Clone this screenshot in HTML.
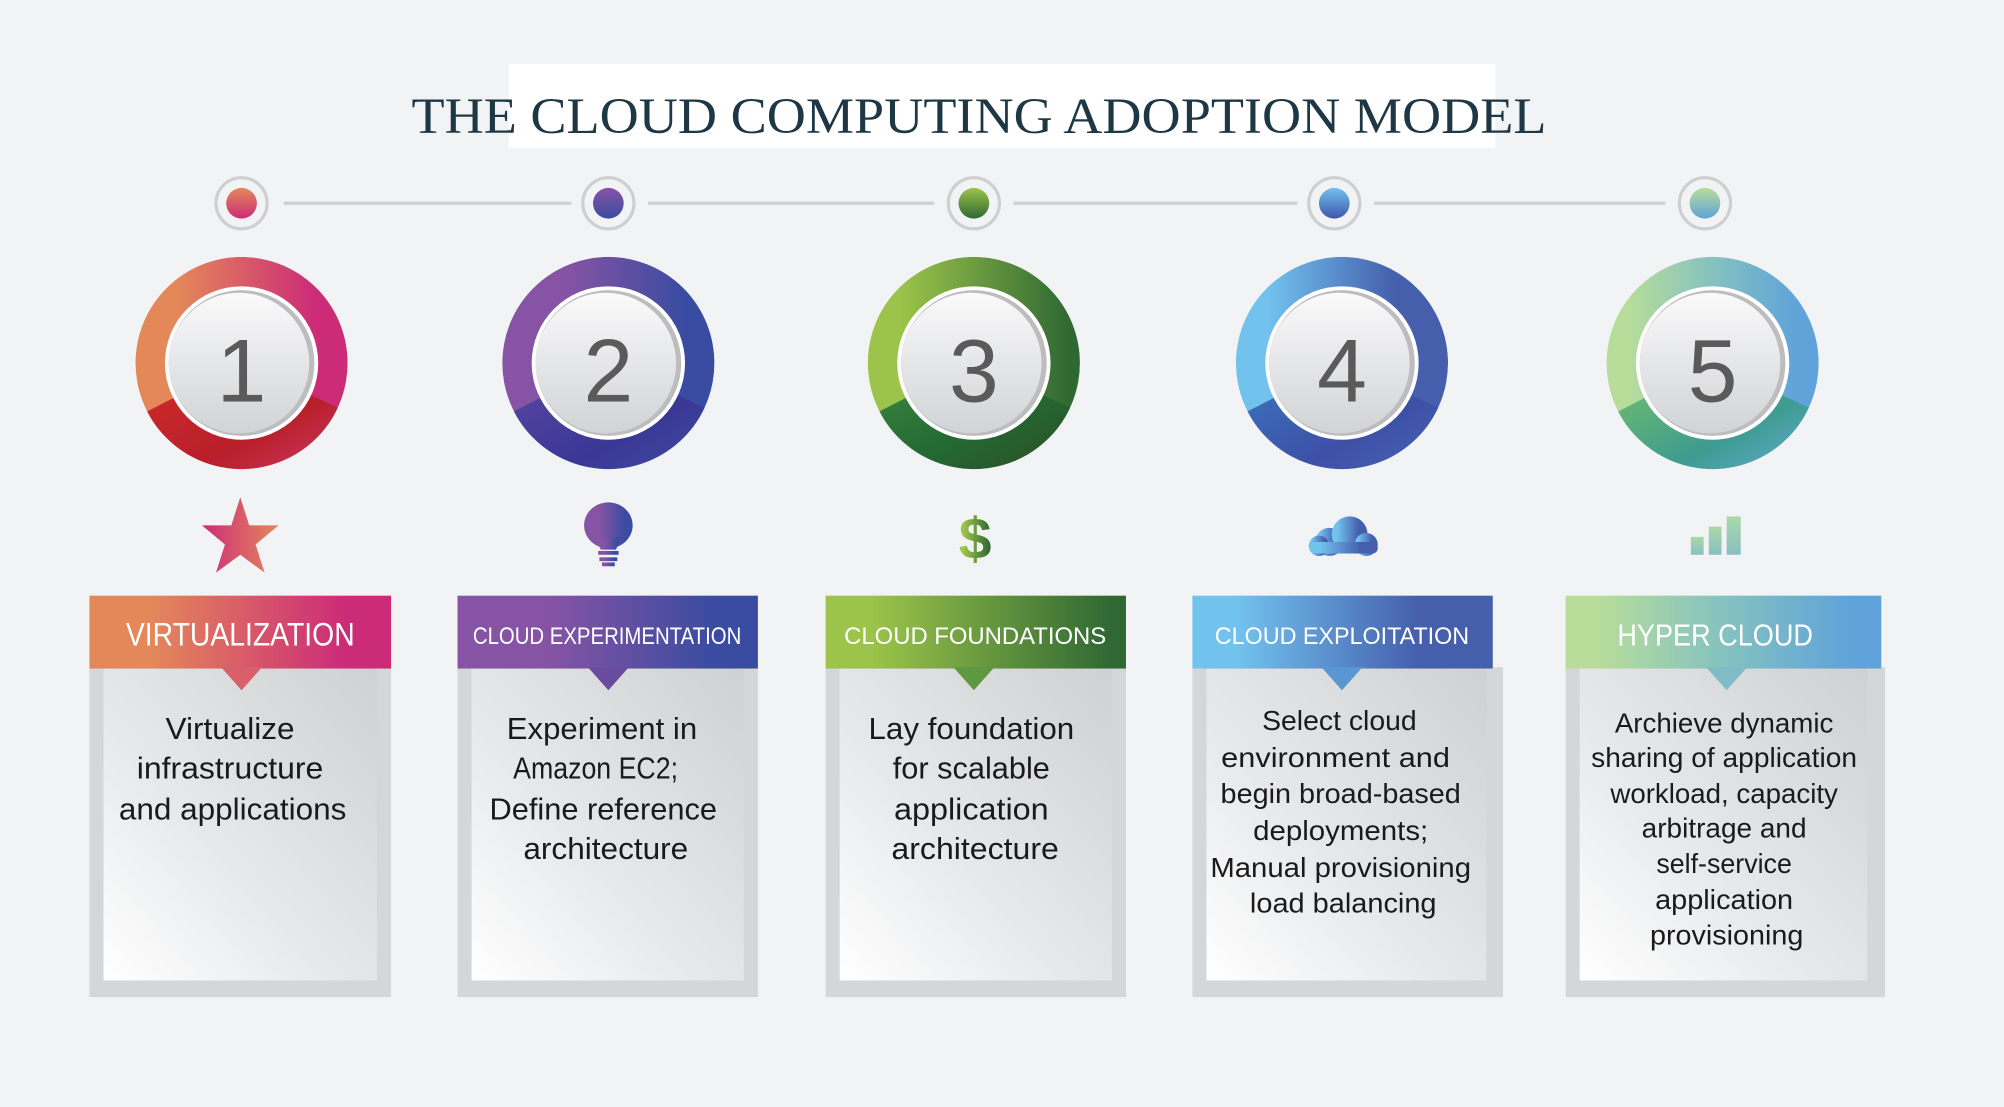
<!DOCTYPE html>
<html><head><meta charset="utf-8"><style>
html,body{margin:0;padding:0;background:#f2f3f5;}
svg{display:block;}
</style></head><body>
<svg width="2004" height="1107" viewBox="0 0 1568 866" preserveAspectRatio="none" xmlns="http://www.w3.org/2000/svg" font-family="Liberation Sans, sans-serif">
<defs>
<linearGradient id="h1" x1="0" x2="1"><stop offset="0.2" stop-color="#e4885a"/><stop offset="0.85" stop-color="#cc2b78"/></linearGradient>
<linearGradient id="h2" x1="0" x2="1"><stop offset="0.3" stop-color="#8753a4"/><stop offset="0.85" stop-color="#3a4ca1"/></linearGradient>
<linearGradient id="h3" x1="0" x2="1"><stop offset="0.15" stop-color="#9cc44a"/><stop offset="0.95" stop-color="#2f6833"/></linearGradient>
<linearGradient id="h4" x1="0" x2="1"><stop offset="0.15" stop-color="#72c2ee"/><stop offset="0.75" stop-color="#455fad"/></linearGradient>
<linearGradient id="h5" x1="0" x2="1"><stop offset="0.1" stop-color="#b8dd9a"/><stop offset="0.5" stop-color="#85c2c0"/><stop offset="0.9" stop-color="#5fa3da"/></linearGradient>
<linearGradient id="b1" x1="0" y1="0" x2="1" y2="1"><stop offset="0" stop-color="#d02c2a"/><stop offset="0.6" stop-color="#b81f2a"/><stop offset="1" stop-color="#d23c6c"/></linearGradient>
<linearGradient id="b2" x1="0" y1="0" x2="1" y2="1"><stop offset="0" stop-color="#5b49a2"/><stop offset="0.6" stop-color="#3a3795"/><stop offset="1" stop-color="#3f4fa5"/></linearGradient>
<linearGradient id="b3" x1="0" y1="0" x2="1" y2="1"><stop offset="0" stop-color="#3f8a3e"/><stop offset="0.5" stop-color="#236b34"/><stop offset="1" stop-color="#2c4a22"/></linearGradient>
<linearGradient id="b4" x1="0" y1="0" x2="1" y2="1"><stop offset="0" stop-color="#3a78c2"/><stop offset="0.6" stop-color="#3d50a6"/><stop offset="1" stop-color="#4a66b4"/></linearGradient>
<linearGradient id="b5" x1="0" y1="0" x2="1" y2="1"><stop offset="0" stop-color="#78c465"/><stop offset="0.6" stop-color="#3d9b90"/><stop offset="1" stop-color="#6aaed8"/></linearGradient>
<linearGradient id="d1" x1="0" y1="0" x2="0" y2="1"><stop offset="0" stop-color="#e4885a"/><stop offset="1" stop-color="#cc2b78"/></linearGradient>
<linearGradient id="d2" x1="0" y1="0" x2="0" y2="1"><stop offset="0" stop-color="#8753a4"/><stop offset="1" stop-color="#3a4ca1"/></linearGradient>
<linearGradient id="d3" x1="0" y1="0" x2="0" y2="1"><stop offset="0" stop-color="#9cc44a"/><stop offset="1" stop-color="#2f6833"/></linearGradient>
<linearGradient id="d4" x1="0" y1="0" x2="0" y2="1"><stop offset="0" stop-color="#72c2ee"/><stop offset="1" stop-color="#3f55aa"/></linearGradient>
<linearGradient id="d5" x1="0" y1="0" x2="0" y2="1"><stop offset="0" stop-color="#b8dd9a"/><stop offset="1" stop-color="#5fa3da"/></linearGradient>
<linearGradient id="inner" x1="0" y1="0" x2="0" y2="1"><stop offset="0" stop-color="#fafafb"/><stop offset="1" stop-color="#d2d3d5"/></linearGradient>
<linearGradient id="card" x1="1" y1="0" x2="0" y2="1"><stop offset="0" stop-color="#cfd0d2"/><stop offset="0.6" stop-color="#e8e9eb"/><stop offset="1" stop-color="#ffffff"/></linearGradient>
<linearGradient id="star" x1="0" x2="1"><stop offset="0" stop-color="#cc2b78"/><stop offset="1" stop-color="#e4885a"/></linearGradient>
<linearGradient id="bars" x1="0" y1="0" x2="0" y2="1"><stop offset="0" stop-color="#aad8a6"/><stop offset="1" stop-color="#88c0c2"/></linearGradient>
</defs>
<rect width="1568" height="866" fill="#f2f3f5"/>
<rect x="398" y="50" width="772" height="66" fill="#fff"/>
<text x="766" y="104" text-anchor="middle" font-family="Liberation Serif, serif" font-size="40" fill="#1e3745" textLength="888" lengthAdjust="spacingAndGlyphs">THE CLOUD COMPUTING ADOPTION MODEL</text>

<g stroke="#d0d0d0" stroke-width="2.5">
<line x1="222" y1="159" x2="447" y2="159"/><line x1="507" y1="159" x2="731" y2="159"/>
<line x1="793" y1="159" x2="1015" y2="159"/><line x1="1075" y1="159" x2="1303" y2="159"/>
</g>

<!-- columns -->
<g id="c1">
<circle cx="189" cy="159" r="20" fill="none" stroke="#cfcfcf" stroke-width="2.5"/><circle cx="189" cy="159" r="12" fill="url(#d1)"/>
<circle cx="189" cy="284" r="83" fill="url(#h1)"/>
<path d="M189,284 L271,322 A90,90 0 0 1 109,325 Z" fill="url(#b1)" transform="translate(0,0)" clip-path="none"/>
</g>
<g>
<circle cx="476" cy="159" r="20" fill="none" stroke="#cfcfcf" stroke-width="2.5"/><circle cx="476" cy="159" r="12" fill="url(#d2)"/>
<circle cx="476" cy="284" r="83" fill="url(#h2)"/>
<path d="M476,284 L558,322 A90,90 0 0 1 396,325 Z" fill="url(#b2)"/>
</g>
<g>
<circle cx="762" cy="159" r="20" fill="none" stroke="#cfcfcf" stroke-width="2.5"/><circle cx="762" cy="159" r="12" fill="url(#d3)"/>
<circle cx="762" cy="284" r="83" fill="url(#h3)"/>
<path d="M762,284 L844,322 A90,90 0 0 1 682,325 Z" fill="url(#b3)"/>
</g>
<g>
<circle cx="1044" cy="159" r="20" fill="none" stroke="#cfcfcf" stroke-width="2.5"/><circle cx="1044" cy="159" r="12" fill="url(#d4)"/>
<circle cx="1050" cy="284" r="83" fill="url(#h4)"/>
<path d="M1050,284 L1132,322 A90,90 0 0 1 970,325 Z" fill="url(#b4)"/>
</g>
<g>
<circle cx="1334" cy="159" r="20" fill="none" stroke="#cfcfcf" stroke-width="2.5"/><circle cx="1334" cy="159" r="12" fill="url(#d5)"/>
<circle cx="1340" cy="284" r="83" fill="url(#h5)"/>
<path d="M1340,284 L1422,322 A90,90 0 0 1 1260,325 Z" fill="url(#b5)"/>
</g>
<!-- mask ring outer edges (sector paths exceed r=83) -->
<g fill="none" stroke="#f2f3f5" stroke-width="14">
<circle cx="189" cy="284" r="90"/><circle cx="476" cy="284" r="90"/><circle cx="762" cy="284" r="90"/><circle cx="1050" cy="284" r="90"/><circle cx="1340" cy="284" r="90"/>
</g>
<!-- inner discs -->
<g>
<g transform="translate(189,284)"><circle r="60" fill="#fff"/><circle r="57" fill="#bdbdbf"/><circle cx="-2" r="55" fill="url(#inner)"/></g>
<g transform="translate(476,284)"><circle r="60" fill="#fff"/><circle r="57" fill="#bdbdbf"/><circle cx="-2" r="55" fill="url(#inner)"/></g>
<g transform="translate(762,284)"><circle r="60" fill="#fff"/><circle r="57" fill="#bdbdbf"/><circle cx="-2" r="55" fill="url(#inner)"/></g>
<g transform="translate(1050,284)"><circle r="60" fill="#fff"/><circle r="57" fill="#bdbdbf"/><circle cx="-2" r="55" fill="url(#inner)"/></g>
<g transform="translate(1340,284)"><circle r="60" fill="#fff"/><circle r="57" fill="#bdbdbf"/><circle cx="-2" r="55" fill="url(#inner)"/></g>
</g>
<g font-size="70" fill="#5a5a5a" text-anchor="middle">
<text x="189" y="314">1</text><text x="476" y="314">2</text><text x="762" y="314">3</text><text x="1050" y="314">4</text><text x="1340" y="314">5</text>
</g>

<!-- icons -->
<polygon points="188,389 195,411 218,411 200,426 207,448 188,434 169,448 176,426 158,411 181,411" fill="url(#star)"/>
<g fill="url(#h2)"><ellipse cx="476" cy="411" rx="19" ry="18"/><path d="M466,420 L486,420 L482,430 L470,430Z"/><rect x="468" y="431" width="16" height="3"/><rect x="469" y="436" width="14" height="3"/><rect x="471" y="440" width="10" height="3"/></g>
<text x="763" y="437" text-anchor="middle" font-size="46" font-weight="bold" fill="url(#h3)">$</text>
<g fill="url(#h4)"><circle cx="1040" cy="424" r="11"/><circle cx="1056" cy="418" r="14"/><circle cx="1032" cy="427" r="8"/><circle cx="1069" cy="426" r="9"/><rect x="1025" y="424" width="53" height="9" rx="4"/></g>
<g fill="url(#bars)"><rect x="1323" y="420" width="10" height="14"/><rect x="1337" y="412" width="10" height="22"/><rect x="1351" y="404" width="11" height="30"/></g>

<!-- cards -->
<g>
<rect x="70" y="522" width="236" height="258" fill="#d5d6d8"/><rect x="81" y="522" width="214" height="245" fill="url(#card)"/>
<rect x="358" y="522" width="235" height="258" fill="#d5d6d8"/><rect x="369" y="522" width="213" height="245" fill="url(#card)"/>
<rect x="646" y="522" width="235" height="258" fill="#d5d6d8"/><rect x="657" y="522" width="213" height="245" fill="url(#card)"/>
<rect x="933" y="522" width="243" height="258" fill="#d5d6d8"/><rect x="944" y="522" width="219" height="245" fill="url(#card)"/>
<rect x="1225" y="522" width="250" height="258" fill="#d5d6d8"/><rect x="1236" y="522" width="225" height="245" fill="url(#card)"/>
</g>
<rect x="70" y="466" width="236" height="57" fill="url(#h1)"/><polygon points="173,522 205,522 189,540" fill="#d8606a"/>
<rect x="358" y="466" width="235" height="57" fill="url(#h2)"/><polygon points="460,522 492,522 476,540" fill="#6a4c9e"/>
<rect x="646" y="466" width="235" height="57" fill="url(#h3)"/><polygon points="746,522 778,522 762,540" fill="#5e9840"/>
<rect x="933" y="466" width="235" height="57" fill="url(#h4)"/><polygon points="1034,522 1066,522 1050,540" fill="#5a97d2"/>
<rect x="1225" y="466" width="247" height="57" fill="url(#h5)"/><polygon points="1335,522 1367,522 1351,540" fill="#7fbcc8"/>

<g fill="#fff" text-anchor="middle">
<text x="188" y="505" font-size="25" textLength="179" lengthAdjust="spacingAndGlyphs">VIRTUALIZATION</text>
<text x="475" y="504" font-size="19" textLength="210" lengthAdjust="spacingAndGlyphs">CLOUD EXPERIMENTATION</text>
<text x="763" y="504" font-size="19" textLength="205" lengthAdjust="spacingAndGlyphs">CLOUD FOUNDATIONS</text>
<text x="1050" y="504" font-size="19" textLength="199" lengthAdjust="spacingAndGlyphs">CLOUD EXPLOITATION</text>
<text x="1342" y="505" font-size="24" textLength="153" lengthAdjust="spacingAndGlyphs">HYPER CLOUD</text>
</g>

<g fill="#1a1a1a" text-anchor="middle" font-size="24">
<text x="180" y="578" textLength="101" lengthAdjust="spacingAndGlyphs">Virtualize</text>
<text x="180" y="609" textLength="146" lengthAdjust="spacingAndGlyphs">infrastructure</text>
<text x="182" y="641" textLength="178" lengthAdjust="spacingAndGlyphs">and applications</text>

<text x="471" y="578" textLength="149" lengthAdjust="spacingAndGlyphs">Experiment in</text>
<text x="466" y="609" textLength="129" lengthAdjust="spacingAndGlyphs">Amazon EC2;</text>
<text x="472" y="641" textLength="178" lengthAdjust="spacingAndGlyphs">Define reference</text>
<text x="474" y="672" textLength="129" lengthAdjust="spacingAndGlyphs">architecture</text>

<text x="760" y="578" textLength="161" lengthAdjust="spacingAndGlyphs">Lay foundation</text>
<text x="760" y="609" textLength="123" lengthAdjust="spacingAndGlyphs">for scalable</text>
<text x="760" y="641" textLength="121" lengthAdjust="spacingAndGlyphs">application</text>
<text x="763" y="672" textLength="131" lengthAdjust="spacingAndGlyphs">architecture</text>
</g>
<g fill="#1a1a1a" text-anchor="middle" font-size="22">
<text x="1048" y="571" textLength="121" lengthAdjust="spacingAndGlyphs">Select cloud</text>
<text x="1045" y="600" textLength="179" lengthAdjust="spacingAndGlyphs">environment and</text>
<text x="1049" y="628" textLength="188" lengthAdjust="spacingAndGlyphs">begin broad-based</text>
<text x="1049" y="657" textLength="137" lengthAdjust="spacingAndGlyphs">deployments;</text>
<text x="1049" y="686" textLength="204" lengthAdjust="spacingAndGlyphs">Manual provisioning</text>
<text x="1051" y="714" textLength="146" lengthAdjust="spacingAndGlyphs">load balancing</text>

<text x="1349" y="573" textLength="171" lengthAdjust="spacingAndGlyphs">Archieve dynamic</text>
<text x="1349" y="600" textLength="208" lengthAdjust="spacingAndGlyphs">sharing of application</text>
<text x="1349" y="628" textLength="178" lengthAdjust="spacingAndGlyphs">workload, capacity</text>
<text x="1349" y="655" textLength="129" lengthAdjust="spacingAndGlyphs">arbitrage and</text>
<text x="1349" y="683" textLength="106" lengthAdjust="spacingAndGlyphs">self-service</text>
<text x="1349" y="711" textLength="108" lengthAdjust="spacingAndGlyphs">application</text>
<text x="1351" y="739" textLength="120" lengthAdjust="spacingAndGlyphs">provisioning</text>
</g>
</svg>
</body></html>
